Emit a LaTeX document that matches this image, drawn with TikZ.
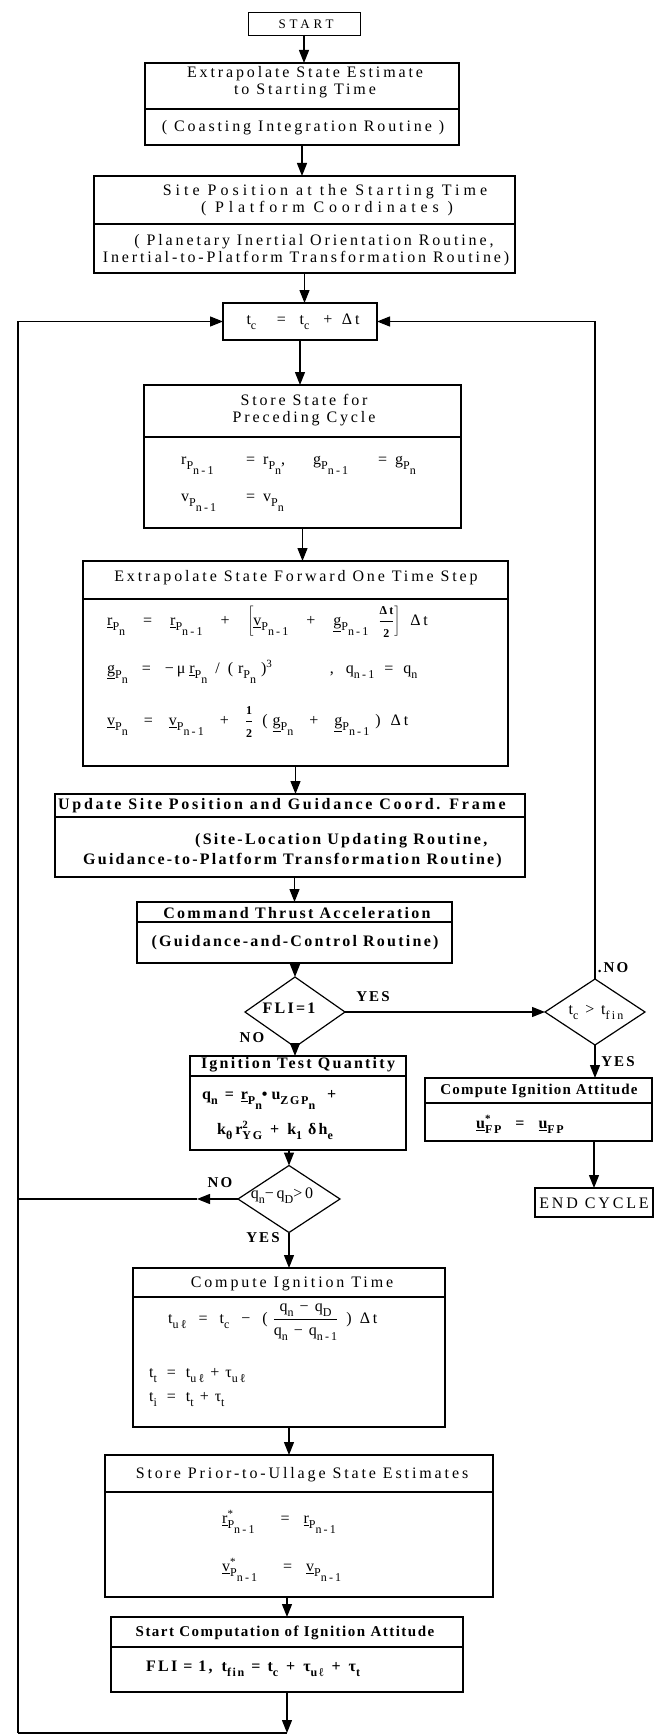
\documentclass[tikz,border=0pt]{standalone}
\usepackage{fontspec}
\setmainfont{Liberation Serif}
\newfontfamily\rg[LetterSpace=18]{Liberation Serif}
\newfontfamily\rb[LetterSpace=14]{Liberation Serif}
\usetikzlibrary{arrows.meta,shapes.geometric}
\newcommand\sbs[1]{\raisebox{-5pt}{\fontsize{12}{13}\selectfont #1}}
\newcommand\sps[1]{\raisebox{6pt}{\fontsize{11}{12}\selectfont #1}}
\newcommand\uv[1]{\underline{#1}}
\newcommand\tk[2]{\makebox[#1][l]{#2}}
\newcommand\op[2][10pt]{\hspace{#1}#2\hspace{#1}}
\newcommand\smf[1]{\mbox{\fontsize{12}{12}\selectfont #1}}
\begin{document}
\begin{tikzpicture}[x=1pt,y=-1pt,
 box/.style={draw,line width=1.2pt,inner sep=0pt,outer sep=0pt,rectangle},
 dbox/.style={draw,line width=1.2pt,inner sep=0pt,outer sep=0pt,diamond},
 tx/.style={inner sep=0pt,font=\rg\fontsize{16}{17}\selectfont},
 tb/.style={inner sep=0pt,font=\rb\bfseries\fontsize{16}{17}\selectfont},
 lab/.style={inner sep=0pt,font=\rb\bfseries\fontsize{15}{16}\selectfont},
 ar/.style={line width=1.3pt,-{Triangle[length=13pt,width=10pt]}},
 ln/.style={line width=1.3pt}]
\useasboundingbox (0,0) rectangle (655,1736);

% ---------- boxes ----------
\node[box,line width=0.8pt,minimum width=112pt,minimum height=23pt] (start) at (304,23.5) {};
\node[box,minimum width=314pt,minimum height=46pt] (b1t) at (302,86) {};
\node[box,minimum width=314pt,minimum height=36pt] (b1b) at (302,127) {};
\node[box,minimum width=421pt,minimum height=48pt] (b2t) at (304.5,200) {};
\node[box,minimum width=421pt,minimum height=49pt] (b2b) at (304.5,248.5) {};
\node[box,minimum width=154pt,minimum height=37pt] (tc) at (300,321.5) {};
\node[box,minimum width=317pt,minimum height=52pt] (sst) at (302.5,411) {};
\node[box,minimum width=317pt,minimum height=91pt] (ssb) at (302.5,482.5) {};
\node[box,minimum width=425pt,minimum height=38pt] (eft) at (295.5,580) {};
\node[box,minimum width=425pt,minimum height=167pt] (efb) at (295.5,682.5) {};
\node[box,minimum width=470pt,minimum height=23pt] (upt) at (290,805.5) {};
\node[box,minimum width=470pt,minimum height=60pt] (upb) at (290,847) {};
\node[box,minimum width=315pt,minimum height=20pt] (cmt) at (294.5,912) {};
\node[box,minimum width=315pt,minimum height=41pt] (cmb) at (294.5,942.5) {};
\node[dbox,minimum width=100pt,minimum height=70pt] (fli) at (295,1012) {};
\node[dbox,minimum width=100pt,minimum height=66pt] (rd) at (595,1012) {};
\node[box,minimum width=216pt,minimum height=20pt] (itt) at (298,1066) {};
\node[box,minimum width=216pt,minimum height=74pt] (itb) at (298,1113) {};
\node[box,minimum width=227pt,minimum height=25pt] (ciat) at (538.5,1090.5) {};
\node[box,minimum width=227pt,minimum height=38pt] (ciab) at (538.5,1122) {};
\node[box,minimum width=118pt,minimum height=29pt] (endc) at (594,1202.5) {};
\node[dbox,minimum width=102pt,minimum height=67pt] (d2) at (289,1199) {};
\node[box,minimum width=312pt,minimum height=29pt] (ctt) at (289,1282.5) {};
\node[box,minimum width=312pt,minimum height=130pt] (ctb) at (289,1362) {};
\node[box,minimum width=388pt,minimum height=37pt] (spt) at (299,1473.5) {};
\node[box,minimum width=388pt,minimum height=105pt] (spb) at (299,1544.5) {};
\node[box,minimum width=352pt,minimum height=30pt] (sct) at (287,1632) {};
\node[box,minimum width=352pt,minimum height=45pt] (scb) at (287,1669.5) {};

% ---------- texts ----------
\node[tx,font=\rg\fontsize{13}{14}\selectfont\addfontfeature{LetterSpace=30}] (tstart) at (306,24) {START};
\node[tx] (t1a) at (305,74) {Extrapolate State Estimate};
\node[tx] (t1b) at (305,91) {to Starting Time};
\node[tx] (t1c) at (303,128) {( Coasting Integration Routine )};
\node[tx,font=\rg\fontsize{16}{17}\selectfont\addfontfeature{LetterSpace=25}] (t2a) at (325,192) {Site Position at the Starting Time};
\node[tx,font=\rg\fontsize{16}{17}\selectfont\addfontfeature{LetterSpace=30}] (t2b) at (327,209) {( Platform Coordinates )};
\node[tx] (t2c) at (314,242) {( Planetary Inertial Orientation Routine,};
\node[tx] (t2d) at (306,259) {Inertial-to-Platform Transformation Routine)};
\node[tx] (ttc) at (303,322) {t\sbs{c} \ \ = \ t\sbs{c} \ + \,Δt};
\node[tx] (t3a) at (304,400) {Store State for};
\node[tx] (t3b) at (304,419) {Preceding Cycle};
\node[tx,anchor=west] (t3c) at (181,465) {\tk{82pt}{r\sbs{P\sbs{n-1}}\hfill=\hspace{8pt}}\tk{50pt}{r\sbs{P\sbs{n}},}\tk{82pt}{g\sbs{P\sbs{n-1}}\hfill=\hspace{8pt}}g\sbs{P\sbs{n}}};
\node[tx,anchor=west] (t3d) at (181,503) {\tk{82pt}{v\sbs{P\sbs{n-1}}\hfill=\hspace{8pt}}v\sbs{P\sbs{n}}};
\node[tx] (t4a) at (296,578) {Extrapolate State Forward One Time Step};
\node[tx,anchor=west] (t4b) at (107,622) {\uv{r}\sbs{P\sbs{n}}\op[18pt]{=}\uv{r}\sbs{P\sbs{n-1}}\op[18pt]{+}$\left[\mbox{\uv{v}\sbs{P\sbs{n-1}}\op[18pt]{+}\uv{g}\sbs{P\sbs{n-1}}\hspace{10pt}}\displaystyle\frac{\smf{\bfseries Δt}}{\smf{\bfseries 2}}\right]$\hspace{10pt}Δt};
\node[tx,anchor=west] (t4c) at (107,672) {\uv{g}\sbs{P\sbs{n}}\op[14pt]{=}−μ\hspace{4pt}\uv{r}\sbs{P\sbs{n}}\op[8pt]{/}(\hspace{5pt}r\sbs{P\sbs{n}}\hspace{5pt})\sps{3}\hspace{58pt},\hspace{12pt}q\sbs{n-1}\op[10pt]{=}q\sbs{n}};
\node[tx,anchor=west] (t4d) at (107,722) {\uv{v}\sbs{P\sbs{n}}\op[16pt]{=}\uv{v}\sbs{P\sbs{n-1}}\op[16pt]{+}$\displaystyle\frac{\smf{\bfseries 1}}{\smf{\bfseries 2}}$\hspace{9pt}(\hspace{5pt}\uv{g}\sbs{P\sbs{n}}\op[16pt]{+}\uv{g}\sbs{P\sbs{n-1}}\hspace{6pt})\hspace{10pt}Δt};
\node[tb,anchor=west,font=\rb\bfseries\fontsize{16}{17}\selectfont\addfontfeature{LetterSpace=17}] (t5a) at (58,806) {Update Site Position and Guidance Coord. Frame};
\node[tb,anchor=west] (t5b) at (195,841) {(Site-Location Updating Routine,};
\node[tb,anchor=west] (t5c) at (83,861) {Guidance-to-Platform Transformation Routine)};
\node[tb] (t6a) at (297,913) {Command Thrust Acceleration};
\node[tb] (t6b) at (295,943) {(Guidance-and-Control Routine)};
\node[tb] (tfli) at (289,1008) {FLI=1};
\node[tx] (trd) at (596,1012) {t\sbs{c} > t\sbs{fin}};
\node[tb] (t7a) at (298,1065) {Ignition Test Quantity};
\node[tb,anchor=west] (t7b) at (202,1100) {q\sbs{n}\op[7pt]{=}\uv{r}\sbs{P\sbs{n}}•\hspace{4pt}u\sbs{ZGP\sbs{n}}\hspace{12pt}+};
\node[tb,anchor=west] (t7c) at (217,1130) {k\sbs{θ}\hspace{3pt}r\rlap{\sps{2}}\sbs{YG}\op[8pt]{+}k\sbs{1}\hspace{6pt}δh\sbs{e}};
\node[tb,font=\rb\bfseries\fontsize{15}{16}\selectfont\addfontfeature{LetterSpace=8}] (t8a) at (539,1091) {Compute Ignition Attitude};
\node[tb,anchor=west] (t8b) at (476,1124) {\uv{u}\rlap{\sps{*}}\sbs{FP}\op[14pt]{=}\uv{u}\sbs{FP}};
\node[tx] (tend) at (594,1203) {END CYCLE};
\node[tx] (td2) at (282,1196) {q\sbs{n}−q\sbs{D}>0};
\node[tx] (t9a) at (292,1284) {Compute Ignition Time};
\node[tx,anchor=west] (t9b) at (168,1322) {t\sbs{uℓ}\op[12pt]{=}t\sbs{c}\op[12pt]{−}(\hspace{5pt}$\displaystyle\frac{\mbox{q\sbs{n}\op[6pt]{−}q\sbs{D}}}{\mbox{q\sbs{n}\op[6pt]{−}q\sbs{n-1}}}$\hspace{8pt})\hspace{8pt}Δt};
\node[tx,anchor=west] (t9c) at (149,1376) {t\sbs{t}\op[10pt]{=}t\sbs{uℓ}\op[6pt]{+}τ\sbs{uℓ}};
\node[tx,anchor=west] (t9d) at (149,1400) {t\sbs{i}\op[10pt]{=}t\sbs{t}\op[6pt]{+}τ\sbs{t}};
\node[tx] (t10a) at (302,1475) {Store Prior-to-Ullage State Estimates};
\node[tx,anchor=west] (t10b) at (222,1522) {\uv{r}\rlap{\sps{*}}\sbs{P\sbs{n-1}}\hspace{26pt}=\hspace{14pt}\uv{r}\sbs{P\sbs{n-1}}};
\node[tx,anchor=west] (t10c) at (222,1570) {\uv{v}\rlap{\sps{*}}\sbs{P\sbs{n-1}}\hspace{26pt}=\hspace{14pt}\uv{v}\sbs{P\sbs{n-1}}};
\node[tb,font=\rb\bfseries\fontsize{15}{16}\selectfont\addfontfeature{LetterSpace=10}] (t11a) at (285,1633) {Start Computation of Ignition Attitude};
\node[tb,anchor=west] (t11b) at (146,1669) {FLI\op[6pt]{=}1,\hspace{9pt}t\sbs{fin}\op[7pt]{=}t\sbs{c}\op[8pt]{+}τ\sbs{uℓ}\op[8pt]{+}τ\sbs{t}};

% labels
\node[lab] (lyes1) at (373,997) {YES};
\node[lab] (lno1) at (252,1038) {NO};
\node[lab] (lno2) at (613,968) {.NO};
\node[lab] (lyes2) at (618,1062) {YES};
\node[lab] (lno3) at (220,1183) {NO};
\node[lab] (lyes3) at (263,1238) {YES};

% ---------- connectors ----------
\draw[ar] (start.south) -- (start.south |- b1t.north);
\draw[ar] (b1b.south) -- (b1b.south |- b2t.north);
\draw[ar] (b2b.south) -- (b2b.south |- tc.north);
\draw[ar] (tc.south) -- (tc.south |- sst.north);
\draw[ar] (ssb.south) -- (ssb.south |- eft.north);
\draw[ar] (efb.south) -- (efb.south |- upt.north);
\draw[ar] (cmt.north |- upb.south) -- (cmt.north);
\draw[ar] (fli.north |- cmb.south) -- (fli.north);
\draw[ar] (fli.south) -- (fli.south |- itt.north);
\draw[ar] (d2.north |- itb.south) -- (d2.north);
\draw[ar] (d2.south) -- (d2.south |- ctt.north);
\draw[ar] (ctb.south) -- (ctb.south |- spt.north);
\draw[ar] (sct.north |- spb.south) -- (sct.north);
\draw[ar] (fli.east) -- (rd.west);
\draw[ar] (rd.north) |- (tc.east);
\draw[ar] (rd.south) -- (rd.south |- ciat.north);
\draw[ar] (endc.north |- ciab.south) -- (endc.north);
\coordinate (bm) at (287,1733);
\coordinate (bl) at (18,1733);
\coordinate (nomid) at (197,1199);
\draw[ar] (scb.south) -- (bm);
\draw[ln] (bm) -- (bl);
\draw[ar] (bl) |- (tc.west);
\draw[ar] (d2.west) -- (nomid);
\draw[ln] (nomid) -- (nomid -| bl);
\end{tikzpicture}
\end{document}
